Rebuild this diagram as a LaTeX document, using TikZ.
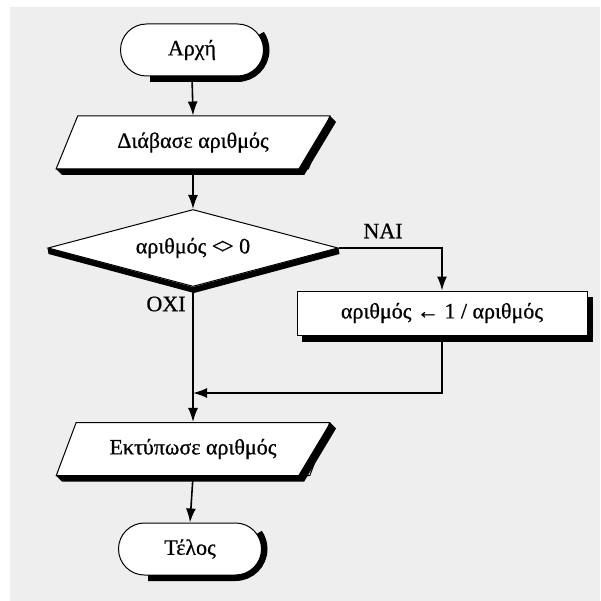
\documentclass[tikz,border=0pt]{standalone}
\usepackage{fontspec}
\setmainfont{Liberation Serif}
\newfontfamily\chartfont[FakeBold=0.7]{Liberation Serif}
\usetikzlibrary{arrows.meta,calc,shapes.geometric}

\definecolor{paper}{RGB}{238,238,238}

\tikzset{
  txt/.style={font=\chartfont\fontsize{22}{26}\selectfont},
  box/.style={txt, draw=black, line width=1pt, fill=white, inner sep=2pt},
  term/.style={box, rounded corners=26pt, minimum width=143pt, minimum height=52pt},
  procbox/.style={box, minimum width=290pt, minimum height=44pt},
  decision/.style={box, diamond, aspect=3.77, minimum width=290pt, minimum height=77pt},
  iobox/.style={box, trapezium, trapezium left angle=59, trapezium right angle=121,
    trapezium stretches=true, minimum width=274pt, minimum height=53pt},
  solidshade/.style={fill=black},
  termshade/.style={draw=black, line width=6pt},
  flow/.style={line width=1.6pt, -{Latex[length=14pt,width=10pt]}},
  lbl/.style={txt},
}

\begin{document}
\begin{tikzpicture}[x=1pt, y=-1pt]
  % page and paper background
  \fill[white] (0,0) rectangle (600,601);
  \fill[paper] (10,7) rectangle (600,601);
  \useasboundingbox (0,0) rectangle (600,601);

  % shapes
  \node[term] (start) at (192,50) {Αρχή};
  \node[iobox] (read) at (193,142.5) {Διάβασε αριθμός};
  \node[decision] (test) at (193,248) {αριθμός <\kern-3pt> 0};
  \node[procbox] (upd) at (442,313) {αριθμός ← 1 / αριθμός};
  \coordinate (merge) at (193,393);
  \node[iobox] (out) at (193,449) {Εκτύπωσε αριθμός};
  \node[term] (stop) at (190,549) {Τέλος};

  % solid black shadows along the lower and right sides of each shape
  \draw[termshade] (150,79) -- (237.5,79) arc[start angle=-90, end angle=35, radius=29pt];
  \draw[termshade] (148,578) -- (235.5,578) arc[start angle=-90, end angle=35, radius=29pt];
  \fill[solidshade] (56,169) -- (298.2,169) -- (330,116) -- (336,122) -- (304.2,175) -- (62,175) -- cycle;
  \fill[solidshade] (56,475.5) -- (298.2,475.5) -- (330,422.5) -- (336,428.5) -- (304.2,481.5) -- (62,481.5) -- cycle;
  \fill[solidshade] (302,335) rectangle (593,342);
  \fill[solidshade] (587,297) rectangle (593,342);
  \fill[solidshade] (test.west) -- (test.south) -- (test.east)
    -- ([xshift=1pt,yshift=-6pt]test.east) -- ([xshift=1pt,yshift=-6pt]test.south)
    -- ([xshift=1pt,yshift=-6pt]test.west) -- cycle;

  % connectors
  \draw[flow] (start.south) -- (read.north);
  \draw[flow] (read.south) -- (test.north);
  \draw[flow] (test.east) -| (upd.north);
  \draw[flow] (test.south) -- (out.north);
  \draw[flow] (upd.south) |- (merge);
  \draw[flow] (out.south) -- (stop.north);

  % branch labels
  \node[lbl] (yes) at (383,231) {NAI};
  \node[lbl] (no) at (166,304) {OXI};
\end{tikzpicture}
\end{document}
